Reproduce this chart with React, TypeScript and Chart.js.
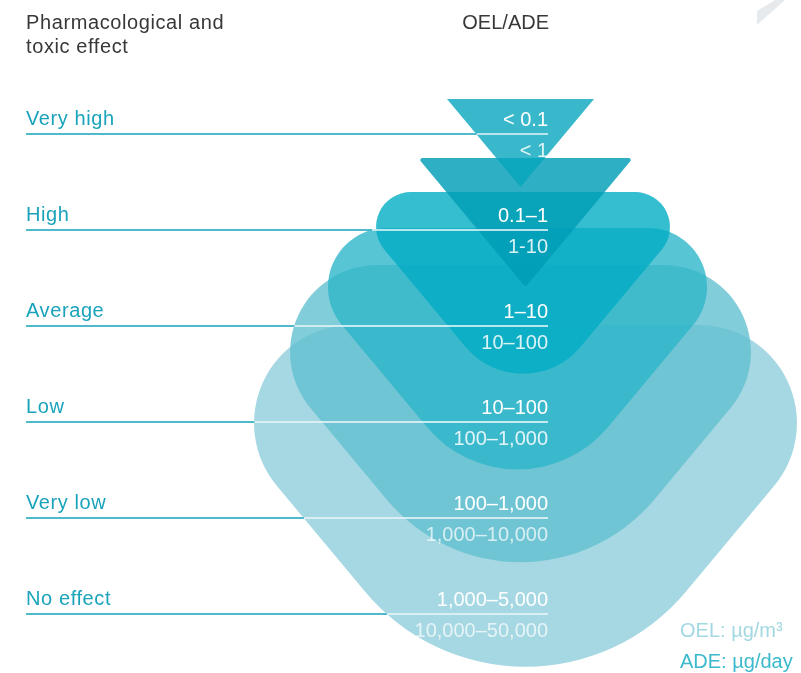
import React, { useEffect, useRef } from "react";
import { Chart, registerables } from "chart.js";

Chart.register(...registerables);

// ---- content ----
const HEADER_LEFT = ["Pharmacological and", "toxic effect"];
const HEADER_RIGHT = "OEL/ADE";
const LEVELS = ["Very high", "High", "Average", "Low", "Very low", "No effect"];
const OEL_RANGES = ["< 0.1", "0.1\u20131", "1\u201310", "10\u2013100", "100\u20131,000", "1,000\u20135,000"];
const ADE_RANGES = ["< 1", "1-10", "10\u2013100", "100\u20131,000", "1,000\u201310,000", "10,000\u201350,000"];
const OEL_UNIT = "OEL: \u00b5g/m\u00b3";
const ADE_UNIT = "ADE: \u00b5g/day";

// ---- shape layout (x in x-units, top/tip in row units, radii in x-units) ----
const SHAPE_TOP = [-0.365, 0.25, 0.604, 0.979, 1.365, 1.99];
const SHAPE_TIP = [0.552, 1.594, 2.9375, 4.185, 5.479, 6.773];
const SHAPE_LEFT = [447, 418, 336.3, 261, 191.3, 142.8];
const SHAPE_RIGHT = [594, 633, 709.7, 774, 849.7, 908.2];
const SHAPE_R_TOP = [0, 2, 35, 59, 87, 98];
const SHAPE_R_TIP = [0, 2, 75, 118, 174, 209];
const SHAPE_FILL = [
  "rgba(6,166,189,0.8)",
  "rgba(0,158,182,0.82)",
  "rgba(3,172,196,0.8)",
  "rgba(46,182,201,0.8)",
  "rgba(99,193,209,0.8)",
  "rgba(143,206,219,0.8)",
];

const TEAL = "#1aa3bb";
const LINE_START = 26;
const LINE_END = 548;

const W = 801;
const H = 673;

const infographicPlugin = {
  id: "infographic",
  afterDatasetsDraw(chart: any) {
    const ctx: CanvasRenderingContext2D = chart.ctx;
    const xs = chart.scales.x;
    const ys = chart.scales.y;
    const X = (v: number) => xs.getPixelForValue(v);
    const Y = (v: number) => ys.getPixelForValue(v);
    ctx.save();

    // decoration top-right
    ctx.fillStyle = "#e7eaed";
    ctx.beginPath();
    ctx.moveTo(X(757), 11);
    ctx.lineTo(X(775), 0);
    ctx.lineTo(X(785), 0);
    ctx.lineTo(X(757), 25);
    ctx.closePath();
    ctx.fill();

    // shapes, largest first
    const paths: Path2D[] = [];
    for (let k = SHAPE_TOP.length - 1; k >= 0; k--) {
      const L = X(SHAPE_LEFT[k]);
      const R = X(SHAPE_RIGHT[k]);
      const T = Y(SHAPE_TOP[k]);
      const B = Y(SHAPE_TIP[k]);
      const M = (L + R) / 2;
      const p = new Path2D();
      p.moveTo(M, T);
      p.arcTo(R, T, M, B, SHAPE_R_TOP[k]);
      p.arcTo(M, B, L, T, SHAPE_R_TIP[k]);
      p.arcTo(L, T, M, T, SHAPE_R_TOP[k]);
      p.closePath();
      ctx.fillStyle = SHAPE_FILL[k];
      ctx.fill(p);
      paths.push(p);
    }

    // white part of row lines
    ctx.strokeStyle = "rgba(255,255,255,0.95)";
    ctx.lineWidth = 1.6;
    LEVELS.forEach((_, i) => {
      const y = Y(i);
      const x0 = X(LINE_START);
      const x1 = X(LINE_END);
      let start = x1;
      for (let x = x0; x <= x1; x += 0.5) {
        if (paths.some((p) => ctx.isPointInPath(p, x, y))) {
          start = x;
          break;
        }
      }
      ctx.beginPath();
      ctx.moveTo(start, y);
      ctx.lineTo(x1, y);
      ctx.stroke();
    });

    // headers
    ctx.fillStyle = "#383838";
    ctx.font = "20px 'Liberation Sans', Arial, sans-serif";
    ctx.textAlign = "left";
    ctx.textBaseline = "alphabetic";
    (ctx as any).letterSpacing = "0.6px";
    ctx.fillText(HEADER_LEFT[0], X(LINE_START), 29);
    ctx.fillText(HEADER_LEFT[1], X(LINE_START), 53);
    (ctx as any).letterSpacing = "0px";
    ctx.textAlign = "right";
    ctx.fillText(HEADER_RIGHT, X(LINE_END) + 1, 29);

    // level labels
    ctx.textAlign = "left";
    ctx.fillStyle = TEAL;
    ctx.font = "20px 'Liberation Sans', Arial, sans-serif";
    (ctx as any).letterSpacing = "0.6px";
    LEVELS.forEach((lab, i) => {
      ctx.fillText(lab, X(LINE_START), Y(i) - 9);
    });
    (ctx as any).letterSpacing = "0px";

    // values
    ctx.textAlign = "right";
    ctx.font = "20px 'Liberation Sans', Arial, sans-serif";
    OEL_RANGES.forEach((v, i) => {
      ctx.fillStyle = "#ffffff";
      ctx.fillText(v, X(LINE_END), Y(i) - 8);
    });
    ADE_RANGES.forEach((v, i) => {
      ctx.fillStyle = i < 4 ? "rgba(255,255,255,0.85)" : "rgba(255,255,255,0.72)";
      ctx.fillText(v, X(LINE_END), Y(i) + 23);
    });

    // units legend
    ctx.textAlign = "left";
    ctx.fillStyle = "#a3d8e2";
    ctx.fillText(OEL_UNIT, X(680), 637);
    ctx.fillStyle = "#3cb9cc";
    ctx.fillText(ADE_UNIT, X(680), 668);

    ctx.restore();
  },
};

export default function App() {
  const ref = useRef<HTMLCanvasElement | null>(null);

  useEffect(() => {
    document.body.style.margin = "0";
    const canvas = ref.current;
    if (!canvas) return;

    const lineData: any[] = [];
    LEVELS.forEach((_, i) => {
      lineData.push({ x: LINE_START, y: i });
      lineData.push({ x: LINE_END, y: i });
      lineData.push({ x: LINE_END, y: null });
    });

    const rowPx = 96;
    const firstRowPx = 134;
    const yMin = -firstRowPx / rowPx;
    const yMax = (H - firstRowPx) / rowPx;

    const chart = new Chart(canvas, {
      type: "scatter",
      data: {
        datasets: [
          {
            label: "rows",
            data: lineData,
            showLine: true,
            spanGaps: false,
            borderColor: TEAL,
            borderWidth: 1.6,
            pointRadius: 0,
            fill: false,
          } as any,
        ],
      },
      options: {
        animation: false,
        responsive: false,
        devicePixelRatio: 1,
        layout: { padding: 0 },
        plugins: {
          legend: { display: false },
          tooltip: { enabled: false },
          title: { display: false },
        },
        events: [],
        scales: {
          x: { type: "linear", min: 0, max: W, display: false },
          y: { type: "linear", min: yMin, max: yMax, reverse: true, display: false },
        },
      },
      plugins: [infographicPlugin],
    });

    return () => chart.destroy();
  }, []);

  return (
    <div style={{ width: W, height: H }}>
      <canvas ref={ref} width={W} height={H} style={{ display: "block" }} />
    </div>
  );
}
